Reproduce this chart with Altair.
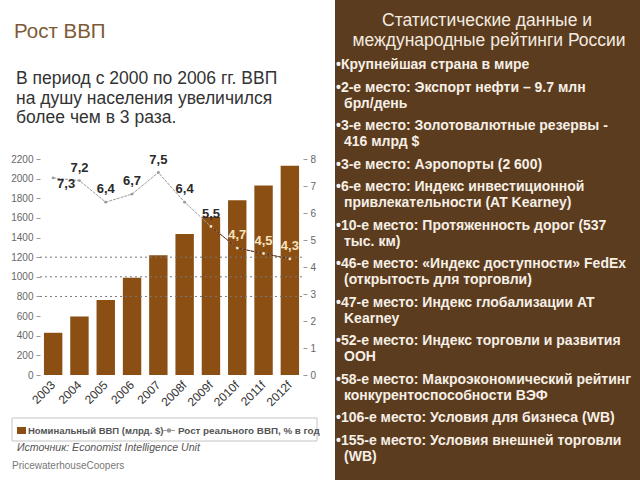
import altair as alt
import pandas as pd

# ---- data ----
years = ["2003", "2004", "2005", "2006", "2007", "2008f", "2009f", "2010f", "2011f", "2012f"]
gdp_nominal = [430, 595, 765, 990, 1220, 1435, 1610, 1780, 1930, 2130]
gdp_growth = [7.3, 7.2, 6.4, 6.7, 7.5, 6.4, 5.5, 4.7, 4.5, 4.3]
growth_labels = ["7,3", "7,2", "6,4", "6,7", "7,5", "6,4", "5,5", "4,7", "4,5", "4,3"]
left_ticks = [0, 200, 400, 600, 800, 1000, 1200, 1400, 1600, 1800, 2000, 2200]
right_ticks = [0, 1, 2, 3, 4, 5, 6, 7, 8]
grid_values = [800, 1000, 1200]

title_text = "Рост ВВП"
intro_lines = ["В период с 2000 по 2006 гг. ВВП", "на душу населения увеличился", "более чем в 3 раза."]
panel_title = ["Статистические данные и", "международные рейтинги России"]
bullets = [
    ["•Крупнейшая страна в мире"],
    ["•2-е место: Экспорт нефти – 9.7 млн", "брл/день"],
    ["•3-е место:  Золотовалютные резервы -", "416 млрд $"],
    ["•3-е место:  Аэропорты (2 600)"],
    ["•6-е место:  Индекс инвестиционной", "привлекательности (AT Kearney)"],
    ["•10-е место:  Протяженность дорог (537", "тыс. км)"],
    ["•46-е место: «Индекс доступности» FedEx", "(открытость для торговли)"],
    ["•47-е место:  Индекс глобализации AT", "Kearney"],
    ["•52-е место: Индекс торговли и развития", "ООН"],
    ["•58-е место: Макроэкономический рейтинг", "конкурентоспособности ВЭФ"],
    ["•106-е место: Условия для бизнеса (WB)"],
    ["•155-е место: Условия внешней торговли", "(WB)"],
]
legend_bar = "Номинальный ВВП (млрд. $)"
legend_line = "Рост реального ВВП, % в год"
source_text = "Источник: Economist Intelligence Unit"
company_text = "PricewaterhouseCoopers"

df = pd.DataFrame({"year": years, "gdp": gdp_nominal, "growth": gdp_growth, "label": growth_labels})

# ---- layout ----
OX, OY = 40, 159          # plot origin in page pixels
W, H = 263, 216
FONT = "Liberation Sans"
BAR = "#8b4f14"
PANEL = "#5c3c1e"
CREAM = "#f5e3c0"
RATIO = 2200 / 8

xscale = alt.Scale(domain=years, paddingInner=0.3, paddingOuter=0.15)
xnoax = alt.X("year:N", scale=xscale, title=None, axis=None)

yleft_scale = alt.Scale(domain=[0, 2200], nice=False)
yright_scale = alt.Scale(domain=[0, 8], nice=False)

bars = alt.Chart(df).mark_bar(color=BAR).encode(
    x=xnoax,
    y=alt.Y("gdp:Q", scale=yleft_scale, title=None,
            axis=alt.Axis(values=left_ticks, format="d", labelFontSize=10, labelColor="#666",
                          labelFont=FONT, domain=False, ticks=True, tickSize=4, tickColor="#999",
                          grid=False, labelPadding=3)),
)
# category labels along the bottom, placed through the x scale
xlabels = alt.Chart(df).mark_text(
    font=FONT, fontSize=12, color="#333", angle=315, align="right", baseline="middle"
).encode(x=xnoax, y=alt.value(H + 8), text="year:N")

grid = alt.Chart(pd.DataFrame({"v": grid_values})).mark_rule(
    color="#777", strokeDash=[2, 3], strokeWidth=1
).encode(y=alt.Y("v:Q", scale=yleft_scale, axis=None), x=alt.value(0), x2=alt.value(W))

yr = alt.Y("growth:Q", scale=yright_scale, title=None,
           axis=alt.Axis(orient="right", values=right_ticks, labelFontSize=10, labelColor="#666",
                         labelFont=FONT, domain=False, ticks=True, tickSize=4, tickColor="#999",
                         grid=False, labelPadding=3))
yr_noax = alt.Y("growth:Q", scale=yright_scale, title=None, axis=None)

line_gray = alt.Chart(df).mark_line(color="#9a9a9a", strokeWidth=1, strokeDash=[3, 1]).encode(x=xnoax, y=yr)
line_dark = alt.Chart(df).transform_filter(f"datum.growth * {RATIO} < datum.gdp").mark_line(
    color="#5a2608", strokeWidth=1, strokeDash=[3, 1]).encode(x=xnoax, y=yr_noax)
points = alt.Chart(df).mark_circle(size=8, opacity=1).encode(
    x=xnoax, y=yr_noax,
    color=alt.condition(f"datum.growth * {RATIO} < datum.gdp", alt.value(CREAM), alt.value("#999")),
)
label_cond = f"(datum.growth + 0.5) * {RATIO} < datum.gdp"
labels = alt.Chart(df).transform_filter(f"datum.year != '{years[0]}'").mark_text(
    font=FONT, fontSize=13, fontWeight="bold", dy=-13, baseline="middle", align="center"
).encode(
    x=xnoax, y=yr_noax, text="label:N",
    color=alt.condition(label_cond, alt.value(CREAM), alt.value("#2a2a2a")),
)
label_first = alt.Chart(df).transform_filter(f"datum.year == '{years[0]}'").mark_text(
    font=FONT, fontSize=13, fontWeight="bold", dx=13, dy=6, baseline="middle", align="center", color="#2a2a2a"
).encode(x=xnoax, y=yr_noax, text="label:N")

one = pd.DataFrame({"a": [0]})


def txt(text, x, y, size, color, weight="normal", align="left", style="normal"):
    return alt.Chart(one).mark_text(
        font=FONT, fontSize=size, color=color, fontWeight=weight, align=align,
        baseline="middle", fontStyle=style
    ).encode(x=alt.value(x - OX), y=alt.value(y - OY), text=alt.value(text))


ann = []
ann.append(txt(panel_title[0], 487, 21, 17.5, "#f3ebe0", align="center"))
ann.append(txt(panel_title[1], 489, 40.5, 17.5, "#f3ebe0", align="center"))
y = 65
for b in bullets:
    for i, ln in enumerate(b):
        ann.append(txt(ln, 336 if i == 0 else 344, y + i * 16, 14, "#f6efe6", weight="bold"))
    y += 16 * len(b) + 6.5

ann.append(txt(title_text, 14, 32, 20.5, "#7d5a36"))
for i, ln in enumerate(intro_lines):
    ann.append(txt(ln, 16, 79 + i * 19.5, 17.5, "#333"))

ann.append(alt.Chart(one).mark_rect(fill="white", stroke="#c4c4c4", strokeWidth=1).encode(
    x=alt.value(12 - OX), x2=alt.value(317 - OX), y=alt.value(418 - OY), y2=alt.value(441 - OY)))
ann.append(alt.Chart(one).mark_rect(color=BAR).encode(
    x=alt.value(17 - OX), x2=alt.value(26 - OX), y=alt.value(427 - OY), y2=alt.value(434 - OY)))
ann.append(txt(legend_bar, 28, 430.5, 9.5, "#555", weight="bold"))
ann.append(alt.Chart(one).mark_rule(color="#999", strokeWidth=1).encode(
    x=alt.value(163 - OX), x2=alt.value(175 - OX), y=alt.value(430.5 - OY)))
ann.append(alt.Chart(one).mark_point(size=6, color="#999", filled=False, opacity=1).encode(
    x=alt.value(169 - OX), y=alt.value(430.5 - OY)))
ann.append(txt(legend_line, 178, 430.5, 9.8, "#555", weight="bold"))
ann.append(txt(source_text, 17, 448, 10.6, "#555", style="italic"))
ann.append(txt(company_text, 12, 466, 10, "#777"))

panel = alt.Chart(one).mark_rect(color=PANEL).encode(
    x=alt.value(335 - OX), x2=alt.value(640 - OX), y=alt.value(0 - OY), y2=alt.value(480 - OY))

chart = alt.layer(
    bars, grid, line_gray, line_dark, points, labels, label_first, xlabels, panel, *ann
).resolve_scale(y="independent").properties(
    width=W, height=H,
    autosize=alt.AutoSizeParams(type="none"),
    padding={"left": OX, "top": OY, "right": 640 - OX - W, "bottom": 480 - OY - H},
    background="white",
).configure_view(stroke=None)

chart.save("out.html", embed_options={"renderer": "svg", "actions": False})
